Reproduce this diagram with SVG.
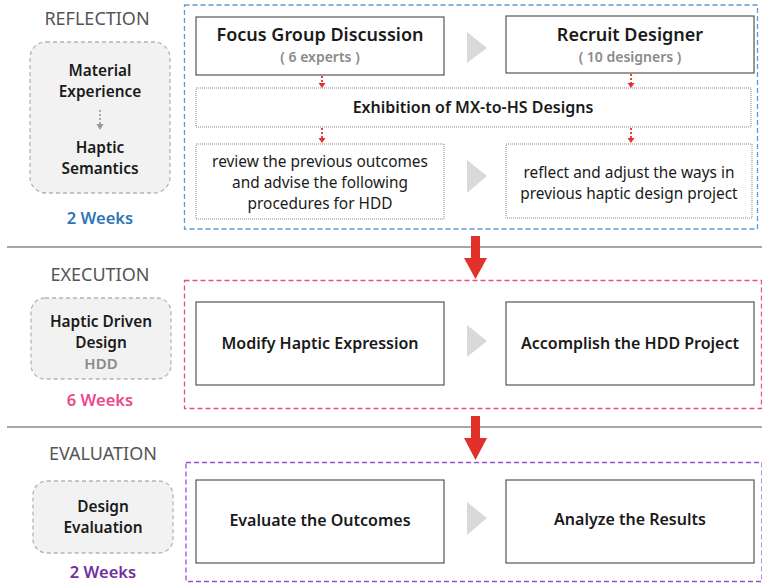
<svg xmlns="http://www.w3.org/2000/svg" width="762" height="584" viewBox="0 0 762 584">
<defs>
<style>
text{font-family:"Noto Sans","Open Sans","Liberation Sans",sans-serif;text-anchor:middle}
.phase{font-size:18px;fill:#555}
.lbl{font-size:15.4px;font-weight:600;fill:#1a1a1a}
.main{font-size:16px;font-weight:600;fill:#1a1a1a}
.big{font-size:18px;font-weight:600;fill:#1a1a1a}
.sub{font-size:14px;font-weight:600;fill:#8a8a8a}
.norm{font-size:15.4px;fill:#1a1a1a}
.box{fill:#fff;stroke:#555;stroke-width:1.2}
.dot{fill:#fff;stroke:#888;stroke-width:1;stroke-dasharray:1 1}
.side{fill:#f2f2f2;stroke:#b5b5b5;stroke-width:1.3;stroke-dasharray:4 3}
.sep{stroke:#8a8a8a;stroke-width:1.3}
.tri{fill:#d9d9d9}
.rdot{stroke:#e8302a;stroke-width:1.8;stroke-dasharray:2 2;fill:none}
.rhead{fill:#e8302a}
.bigarrow{fill:#e2302a}
</style>
</defs>

<g id="separators">
<line class="sep" x1="7" y1="247" x2="762" y2="247"/>
<line class="sep" x1="7" y1="427" x2="762" y2="427"/>
</g>

<g id="reflection">
<text class="phase" x="97" y="25">REFLECTION</text>
<rect x="184.5" y="5" width="573" height="224" fill="none" stroke="#5b9bd5" stroke-width="1.3" stroke-dasharray="5 3"/>
<g id="mx-hs">
<rect class="side" x="30" y="42" width="140" height="151" rx="16"/>
<text class="lbl" x="100" y="76">Material</text>
<text class="lbl" x="100" y="97">Experience</text>
<line x1="100" y1="110" x2="100" y2="124" stroke="#999" stroke-width="1.6" stroke-dasharray="2 2"/>
<path d="M96.5,124 L103.5,124 L100,130 Z" fill="#999"/>
<text class="lbl" x="100" y="153">Haptic</text>
<text class="lbl" x="100" y="174">Semantics</text>
<text x="100" y="224" style="font-size:16.5px;font-weight:600;fill:#2e75b6">2 Weeks</text>
</g>
<g id="focus-group">
<rect class="box" x="196" y="17" width="248" height="58"/>
<text class="big" x="320" y="41">Focus Group Discussion</text>
<text class="sub" x="320" y="62">( 6 experts )</text>
</g>
<g id="recruit">
<rect class="box" x="506" y="16" width="248" height="57"/>
<text class="big" x="630" y="41">Recruit Designer</text>
<text class="sub" x="630" y="62">( 10 designers )</text>
</g>
<g id="exhibition">
<rect class="dot" x="196" y="88" width="555" height="39"/>
<text class="main" x="473" y="113">Exhibition of MX-to-HS Designs</text>
</g>
<g id="review">
<rect class="dot" x="196" y="144" width="248" height="75"/>
<text class="norm" x="320" y="167">review the previous outcomes</text>
<text class="norm" x="320" y="188">and advise the following</text>
<text class="norm" x="320" y="209">procedures for HDD</text>
</g>
<g id="reflect">
<rect class="dot" x="506" y="144" width="246" height="74"/>
<text class="norm" x="629" y="178">reflect and adjust the ways in</text>
<text class="norm" x="629" y="199">previous haptic design project</text>
</g>
</g>

<g id="execution">
<text class="phase" x="100" y="281">EXECUTION</text>
<rect x="184.5" y="280.5" width="577" height="128" fill="none" stroke="#f0468c" stroke-width="1.3" stroke-dasharray="5 3"/>
<g id="hdd">
<rect class="side" x="31" y="298" width="140" height="81" rx="14"/>
<text class="lbl" x="101" y="327">Haptic Driven</text>
<text class="lbl" x="101" y="348">Design</text>
<text x="101" y="369" style="font-size:15px;font-weight:600;fill:#8a8a8a">HDD</text>
<text x="100" y="406" style="font-size:16.5px;font-weight:600;fill:#f0468c">6 Weeks</text>
</g>
<g id="modify">
<rect class="box" x="196" y="302" width="248" height="83"/>
<text class="main" x="320" y="349">Modify Haptic Expression</text>
</g>
<g id="accomplish">
<rect class="box" x="506" y="302" width="248" height="83"/>
<text class="main" x="630" y="349">Accomplish the HDD Project</text>
</g>
</g>

<g id="evaluation">
<text class="phase" x="103" y="460">EVALUATION</text>
<rect x="186" y="462.5" width="576" height="119" fill="none" stroke="#9b4fd0" stroke-width="1.3" stroke-dasharray="5 3"/>
<g id="design-eval">
<rect class="side" x="33" y="481" width="140" height="72" rx="14"/>
<text class="lbl" x="103" y="512">Design</text>
<text class="lbl" x="103" y="533">Evaluation</text>
<text x="103" y="578" style="font-size:16.5px;font-weight:600;fill:#7030a0">2 Weeks</text>
</g>
<g id="evaluate">
<rect class="box" x="196" y="480" width="248" height="83"/>
<text class="main" x="320" y="526">Evaluate the Outcomes</text>
</g>
<g id="analyze">
<rect class="box" x="506" y="480" width="248" height="83"/>
<text class="main" x="630" y="525">Analyze the Results</text>
</g>
</g>

<g id="connectors">
<path class="tri" d="M467,32 L487,48 L467,63 Z"/>
<path class="tri" d="M467,160 L487,176 L467,193 Z"/>
<path class="tri" d="M467,325 L487,341 L467,357 Z"/>
<path class="tri" d="M467,502 L487,518 L467,535 Z"/>
<line class="rdot" x1="322" y1="76" x2="322" y2="83"/>
<path class="rhead" d="M318.5,83 L325.5,83 L322,88 Z"/>
<line class="rdot" x1="631" y1="74" x2="631" y2="83"/>
<path class="rhead" d="M627.5,83 L634.5,83 L631,88 Z"/>
<line class="rdot" x1="322" y1="128" x2="322" y2="138"/>
<path class="rhead" d="M318.5,138 L325.5,138 L322,143 Z"/>
<line class="rdot" x1="631" y1="128" x2="631" y2="138"/>
<path class="rhead" d="M627.5,138 L634.5,138 L631,143 Z"/>
<path class="bigarrow" d="M471,236 L480,236 L480,258 L487,258 L475.5,279 L464,258 L471,258 Z"/>
<path class="bigarrow" d="M471,416 L480,416 L480,438 L487,438 L475.5,460 L464,438 L471,438 Z"/>
</g>
</svg>
